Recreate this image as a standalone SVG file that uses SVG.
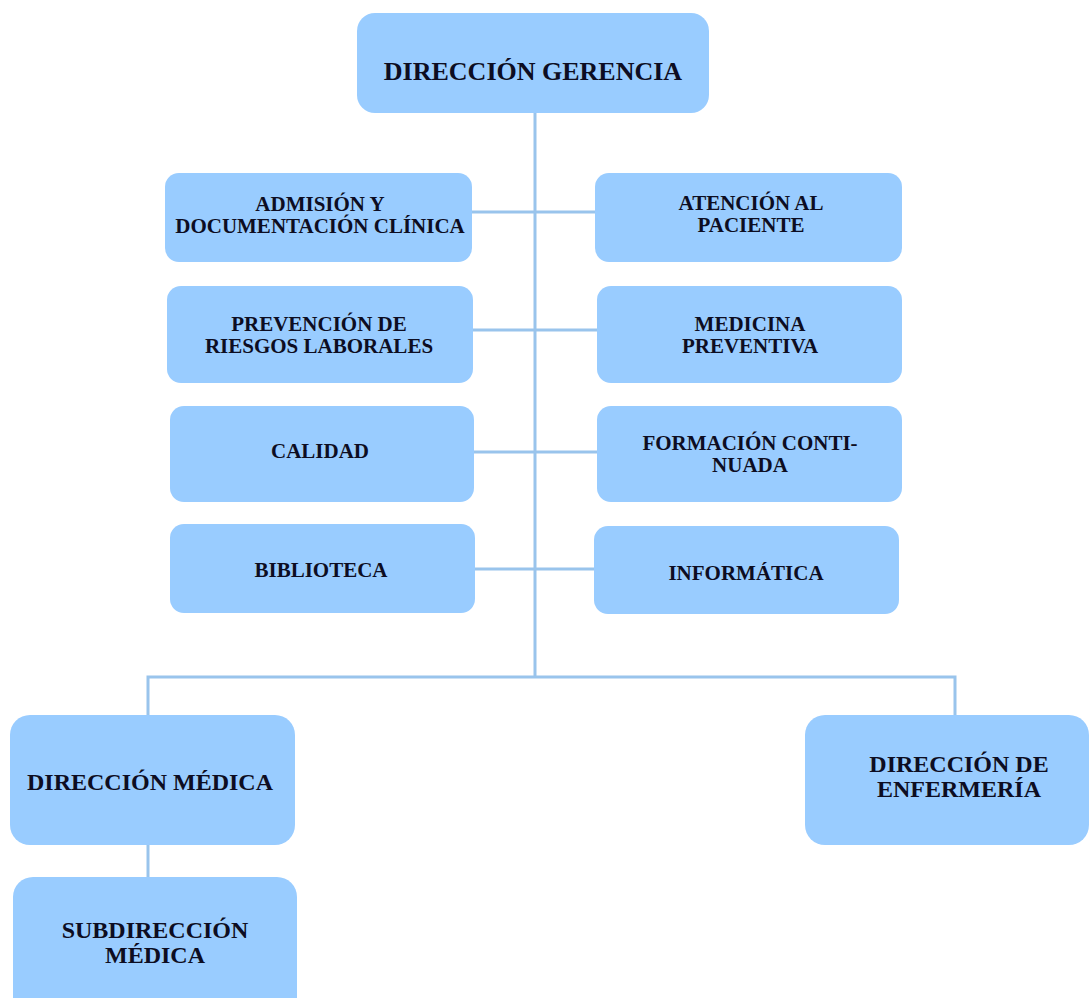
<svg xmlns="http://www.w3.org/2000/svg" width="1091" height="998" viewBox="0 0 1091 998">
<style>
.box{fill:#99CCFF;stroke:none}
.t{font-family:"Liberation Serif","Times New Roman",serif;font-weight:bold;fill:#0d0d22;text-anchor:middle}
.s21{font-size:21px}
.s24{font-size:24px}
.s26{font-size:26px}
.ln{stroke:#99C4EC;stroke-width:3;fill:none}
</style>
<rect width="1091" height="998" fill="#ffffff"/>
<g id="connectors">
<path class="ln" d="M535 113V677"/>
<path class="ln" d="M472 212H595"/>
<path class="ln" d="M473 330H597"/>
<path class="ln" d="M474 452H597"/>
<path class="ln" d="M475 569H594"/>
<path class="ln" d="M148 715V677H955V715"/>
<path class="ln" d="M148 845V877"/>
</g>
<g id="n-gerencia"><rect class="box" x="357" y="13" width="352" height="100" rx="18"/><text class="t s26" x="533" y="80">DIRECCIÓN GERENCIA</text></g>
<g id="n-admision"><rect class="box" x="165" y="173" width="307" height="89" rx="14"/><text class="t s21" x="320" y="211">ADMISIÓN Y</text><text class="t s21" x="320" y="233">DOCUMENTACIÓN CLÍNICA</text></g>
<g id="n-atencion"><rect class="box" x="595" y="173" width="307" height="89" rx="14"/><text class="t s21" x="751" y="210">ATENCIÓN AL</text><text class="t s21" x="751" y="232">PACIENTE</text></g>
<g id="n-prevencion"><rect class="box" x="167" y="286" width="306" height="97" rx="14"/><text class="t s21" x="319" y="331">PREVENCIÓN DE</text><text class="t s21" x="319" y="353">RIESGOS LABORALES</text></g>
<g id="n-medicina"><rect class="box" x="597" y="286" width="305" height="97" rx="14"/><text class="t s21" x="750" y="331">MEDICINA</text><text class="t s21" x="750" y="353">PREVENTIVA</text></g>
<g id="n-calidad"><rect class="box" x="170" y="406" width="304" height="96" rx="14"/><text class="t s21" x="320" y="458">CALIDAD</text></g>
<g id="n-formacion"><rect class="box" x="597" y="406" width="305" height="96" rx="14"/><text class="t s21" x="750" y="450">FORMACIÓN CONTI-</text><text class="t s21" x="750" y="472">NUADA</text></g>
<g id="n-biblioteca"><rect class="box" x="170" y="524" width="305" height="89" rx="14"/><text class="t s21" x="321" y="577">BIBLIOTECA</text></g>
<g id="n-informatica"><rect class="box" x="594" y="526" width="305" height="88" rx="14"/><text class="t s21" x="746" y="580">INFORMÁTICA</text></g>
<g id="n-medica"><rect class="box" x="10" y="715" width="285" height="130" rx="20"/><text class="t s24" x="150" y="790">DIRECCIÓN MÉDICA</text></g>
<g id="n-enfermeria"><rect class="box" x="805" y="715" width="284" height="130" rx="20"/><text class="t s24" x="959" y="772">DIRECCIÓN DE</text><text class="t s24" x="959" y="797">ENFERMERÍA</text></g>
<g id="n-subdireccion"><rect class="box" x="13" y="877" width="284" height="140" rx="20"/><text class="t s24" x="155" y="938">SUBDIRECCIÓN</text><text class="t s24" x="155" y="963">MÉDICA</text></g>
</svg>
